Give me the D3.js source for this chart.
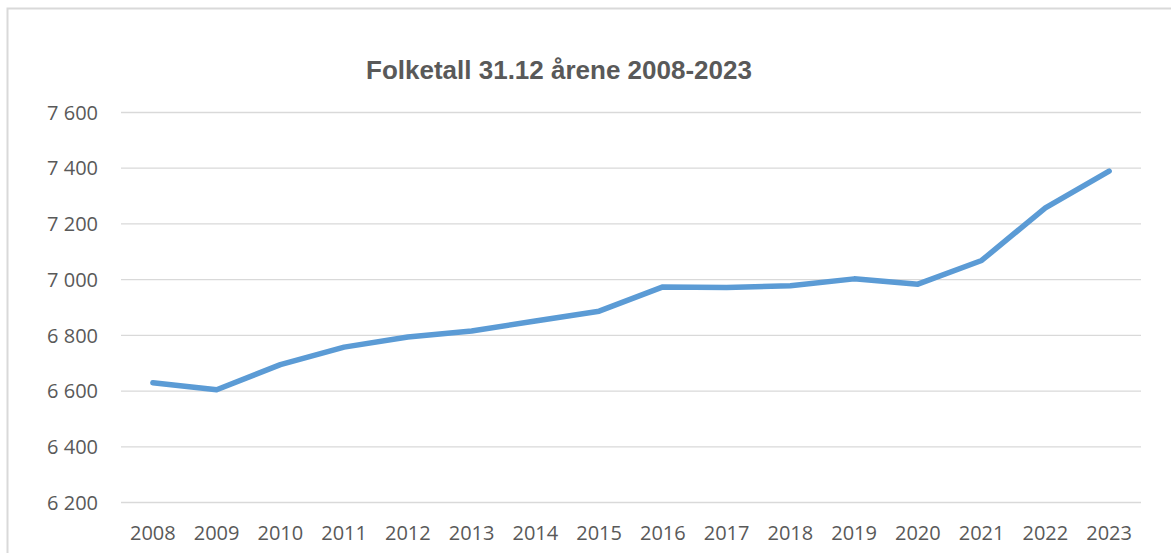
<!DOCTYPE html>
<html>
<head>
<meta charset="utf-8">
<script src="https://cdn.jsdelivr.net/npm/d3@7"></script>
<style>
  body { margin: 0; background: #fff; }
  svg { display: block; }
  .axis text { font-family: "Open Sans", sans-serif; font-size: 20px; fill: #595959; }
  .axis .domain { display: none; }
  .y.axis .tick line { stroke: #d9d9d9; stroke-width: 1.3; }
</style>
</head>
<body>
<div id="stage_id"></div>
<script>
// data
var years = ["2008", "2009", "2010", "2011", "2012", "2013", "2014", "2015",
             "2016", "2017", "2018", "2019", "2020", "2021", "2022", "2023"];
var folketall = [6628, 6603, 6693, 6756, 6792, 6814, 6850, 6885,
                 6972, 6970, 6976, 7001, 6982, 7067, 7256, 7388];
var yTicks = [6200, 6400, 6600, 6800, 7000, 7200, 7400, 7600];
var title = "Folketall 31.12 årene 2008-2023";

var cx = 1171, cy = 553;
var margin = {top: 112, right: 30, bottom: 51, left: 121};
var width = cx - margin.left - margin.right,
    height = cy - margin.top - margin.bottom;

var svg = d3.select("#stage_id")
  .append("svg")
  .attr("width", cx)
  .attr("height", cy);

// chart border (cut off at right and bottom)
svg.append("path")
  .attr("d", "M7.5," + (cy + 5) + "V8.5H" + (cx + 5))
  .attr("fill", "none")
  .attr("stroke", "#d9d9d9")
  .attr("stroke-width", 2);

var g = svg.append("g")
  .attr("transform", "translate(" + margin.left + "," + margin.top + ")");

var xScale = d3.scaleBand()
  .domain(years)
  .range([0, width]);

var yScale = d3.scaleLinear()
  .domain([6200, 7600])
  .range([height, 0]);

var nb = d3.formatLocale({decimal: ",", thousands: " ", grouping: [3], currency: ["", ""]});

var yAxis = d3.axisLeft(yScale)
  .tickValues(yTicks)
  .tickFormat(nb.format(",d"))
  .tickSize(-width)
  .tickPadding(23);

var xAxis = d3.axisBottom(xScale)
  .tickSize(0)
  .tickPadding(0);

var gY = g.append("g")
  .attr("class", "y axis")
  .call(yAxis);
gY.selectAll(".tick text").attr("dy", "0.36em");

var gX = g.append("g")
  .attr("class", "x axis")
  .attr("transform", "translate(0," + height + ")")
  .call(xAxis);
gX.selectAll(".tick text").attr("dy", 0).attr("y", 38);

var line = d3.line()
  .x(function(d, i) { return xScale(years[i]) + xScale.bandwidth() / 2; })
  .y(function(d) { return yScale(d); });

g.append("path")
  .datum(folketall)
  .attr("d", line)
  .attr("fill", "none")
  .attr("stroke", "#5b9bd5")
  .attr("stroke-width", 5.5)
  .attr("stroke-linejoin", "round")
  .attr("stroke-linecap", "round");

svg.append("text")
  .attr("x", 559)
  .attr("y", 79)
  .attr("text-anchor", "middle")
  .style("font-family", "'Liberation Sans', Arial, sans-serif")
  .style("font-weight", "bold")
  .style("font-size", "26px")
  .style("fill", "#595959")
  .text(title);
</script>
</body>
</html>
